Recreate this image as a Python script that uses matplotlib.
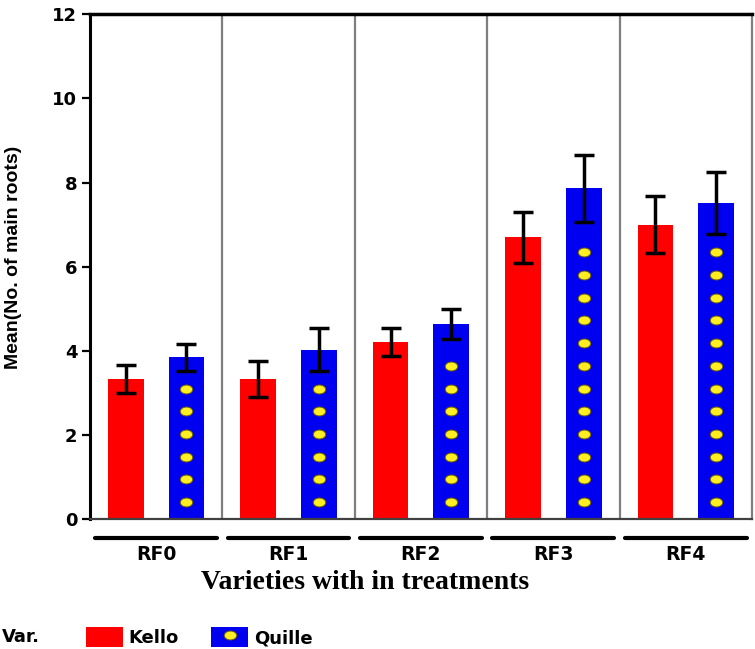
import numpy as np
import matplotlib
matplotlib.use("Agg")
import matplotlib.pyplot as plt
from matplotlib.patches import Patch
from matplotlib.lines import Line2D
from matplotlib.path import Path
from matplotlib.transforms import Affine2D

plt.rcParams["font.family"] = ["DejaVu Sans"]
plt.rcParams["font.weight"] = "bold"

# data
treatments = ["RF0", "RF1", "RF2", "RF3", "RF4"]
kello = [3.33, 3.33, 4.2, 6.7, 7.0]
kello_err = [0.34, 0.43, 0.33, 0.61, 0.68]
quille = [3.85, 4.03, 4.63, 7.86, 7.52]
quille_err = [0.32, 0.52, 0.36, 0.8, 0.74]

RED = "#ff0000"
BLUE = "#0000f0"
YELLOW = "#ffee22"

# ellipse marker for the dots inside the Quille bars
dot = Path.unit_circle().transformed(Affine2D().scale(1.4, 1.0))


def save_plot(output_file):
    plt.savefig(output_file, dpi=100)
    plt.close()


fig = plt.figure(figsize=(7.55, 6.49))
ax = fig.add_axes([0.119, 0.2003, 0.877, 0.7777])

x = np.arange(len(treatments))
off = 0.229
width = 0.27

ax.bar(x - off, kello, width, color=RED, zorder=2)
ax.bar(x + off, quille, width, color=BLUE, zorder=2)

ekw = dict(fmt="none", ecolor="black", elinewidth=2.5, capsize=7, capthick=2.5, zorder=4)
ax.errorbar(x - off, kello, yerr=kello_err, **ekw)
ax.errorbar(x + off, quille, yerr=quille_err, **ekw)

# yellow dots pattern, kept below the error bar
for xi, h, e in zip(x, quille, quille_err):
    ys = np.arange(0.4, h - e - 0.3, 0.54)
    ax.plot(np.full(len(ys), xi + off), ys, linestyle="none", marker=dot,
            markersize=9, markerfacecolor=YELLOW, markeredgecolor="#6b6000",
            markeredgewidth=0.7, zorder=3)

# panel separators
for xs in x[1:] - 0.5:
    ax.axvline(xs, color="#7f7f7f", linewidth=1.6, zorder=1)

ax.set_xlim(-0.5, 4.5)
ax.set_ylim(0, 12)
ax.set_yticks(range(0, 13, 2))
ax.tick_params(axis="y", length=6, width=1.6, direction="out", labelsize=13, pad=3)
for lab in ax.get_yticklabels():
    lab.set_fontweight("bold")
ax.set_xticks([])

ax.spines["left"].set_linewidth(2.2)
ax.spines["left"].set_color("black")
ax.spines["top"].set_linewidth(2.5)
ax.spines["top"].set_color("black")
ax.spines["right"].set_linewidth(1.6)
ax.spines["right"].set_color("#7f7f7f")
ax.spines["bottom"].set_linewidth(1.6)
ax.spines["bottom"].set_color("#404040")

# group brackets and labels under the axis
trans = ax.get_xaxis_transform()
for xi, name in zip(x, treatments):
    ax.plot([xi - 0.46, xi + 0.46], [-0.0376, -0.0376], color="black", linewidth=3,
            solid_capstyle="round", transform=trans, clip_on=False)
    ax.text(xi, -0.071, name, transform=trans, ha="center", va="center",
            fontsize=13.5, fontweight="bold")

ax.text(1.58, -0.1266, "Varieties with in treatments", transform=trans,
        ha="center", va="center", fontsize=20, fontweight="bold",
        family="Liberation Serif")

fig.text(0.018, 0.604, "Mean(No. of main roots)", rotation=90, ha="center",
         va="center", fontsize=14, fontweight="bold",
         family=["Liberation Sans Narrow", "Liberation Sans"])

# legend
fig.text(0.002, 0.0185, "Var.", ha="left", va="center", fontsize=13, fontweight="bold")
h_kello = Patch(facecolor=RED, edgecolor="none")
h_quille = (Patch(facecolor=BLUE, edgecolor="none"),
            Line2D([], [], linestyle="none", marker=dot, markersize=9,
                   markerfacecolor=YELLOW, markeredgecolor="#6b6000", markeredgewidth=0.7))
fig.legend([h_kello, h_quille], ["Kello", "Quille"], loc="center left",
           bbox_to_anchor=(0.114, 0.0185), ncol=2, frameon=False,
           handlelength=2.05, handleheight=1.35, handletextpad=0.3,
           columnspacing=1.8, borderaxespad=0, borderpad=0,
           prop={"weight": "bold", "size": 13})

save_plot("out.png")
